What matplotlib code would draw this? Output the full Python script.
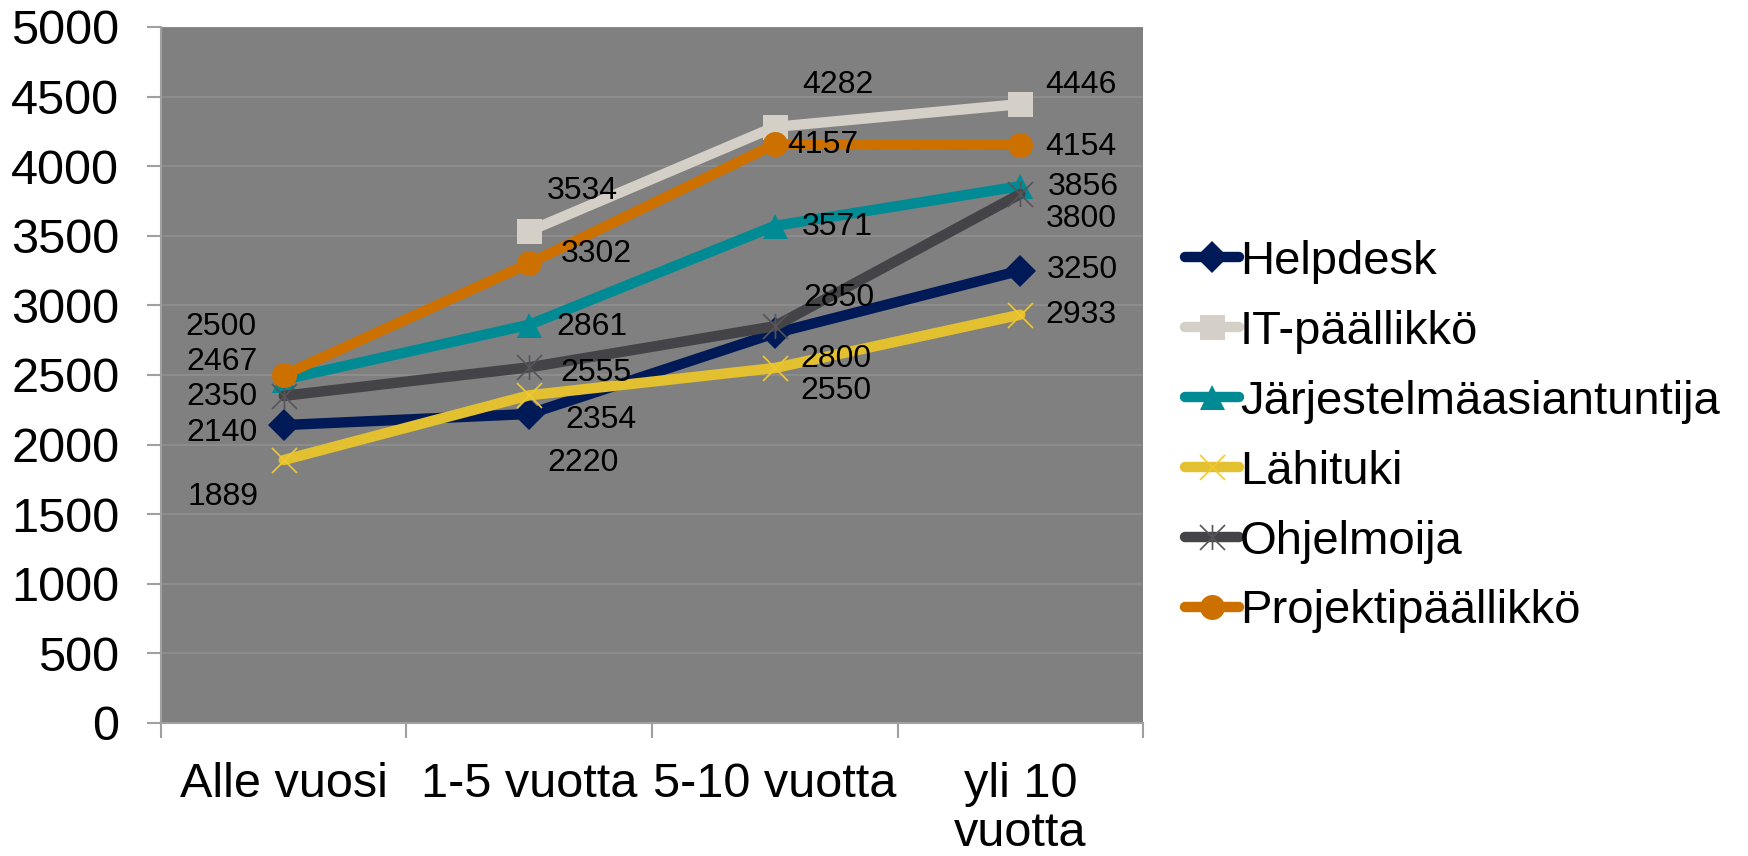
import matplotlib
matplotlib.use("Agg")
from matplotlib import pyplot as plt
from matplotlib.path import Path
import numpy as np

plt.rcParams['font.family'] = ['Liberation Sans', 'DejaVu Sans']

categories = ["Alle vuosi", "1-5 vuotta", "5-10 vuotta", "yli 10\nvuotta"]

helpdesk = [2140, 2220, 2800, 3250]
it_paallikko = [np.nan, 3534, 4282, 4446]
jarjestelma = [2467, 2861, 3571, 3856]
lahituki = [1889, 2354, 2550, 2933]
ohjelmoija = [2350, 2555, 2850, 3800]
projekti = [2500, 3302, 4157, 4154]

series_names = ["Helpdesk", "IT-päällikkö", "Järjestelmäasiantuntija",
                "Lähituki", "Ohjelmoija", "Projektipäällikkö"]
series_values = [helpdesk, it_paallikko, jarjestelma, lahituki, ohjelmoija, projekti]

# asterisk marker like excel's "star": x plus a vertical bar
star = Path([(-0.5, -0.5), (0.5, 0.5), (-0.5, 0.5), (0.5, -0.5), (0, -0.5), (0, 0.5)],
            [Path.MOVETO, Path.LINETO, Path.MOVETO, Path.LINETO, Path.MOVETO, Path.LINETO])

styles = [
    dict(color="#001a57", marker="D", ms=16, mfc="#001a57", mec="#001a57", mew=0),
    dict(color="#d4d0c8", marker="s", ms=18, mfc="#d4d0c8", mec="#d4d0c8", mew=0),
    dict(color="#008b94", marker="^", ms=18, mfc="#008b94", mec="#008b94", mew=0),
    dict(color="#e3c02f", marker="x", ms=18, mfc="none", mec="#f0c830", mew=1.2),
    dict(color="#434348", marker=star, ms=18, mfc="none", mec="#55555a", mew=1.2),
    dict(color="#cc7000", marker="o", ms=18, mfc="#cc7000", mec="#cc7000", mew=0),
]

# label offsets in pixels (dx, dy with dy upward), one row per series
label_offsets = [
    [(-62, -8), (54, -49), (61, -26), (62, 1)],
    [None, (53, 40), (63, 42), (61, 19)],
    [(-62, 18), (63, -2), (63, -1), (63, -1)],
    [(-61, -37), (72, -25), (61, -23), (61, 0)],
    [(-62, -1), (67, -6), (64, 28), (61, -25)],
    [(-63, 48), (67, 9), (48, -1), (61, -2)],
]

fig = plt.figure(figsize=(17.48, 8.56), dpi=100)
ax = fig.add_axes([0.0921, 0.1554, 0.5618, 0.8131])
ax.set_facecolor("#808080")

x = np.arange(len(categories))
for name, values, st, offs in zip(series_names, series_values, styles, label_offsets):
    ax.plot(x, values, label=name, lw=7.5, solid_capstyle="round", solid_joinstyle="round",
            zorder=3, clip_on=False, **st)
    for xi, v, off in zip(x, values, offs):
        if off is None or np.isnan(v):
            continue
        ax.annotate(str(int(v)), (xi, v), xytext=off, textcoords="offset pixels",
                    ha="center", va="center", fontsize=23, color="black", zorder=5)

ax.set_xlim(-0.5, len(categories) - 0.5)
ax.set_ylim(0, 5000)
ax.set_yticks(np.arange(0, 5001, 500))
ax.yaxis.grid(True, color="#8c8c8c", lw=1.5)
ax.set_axisbelow(True)

ax.set_xticks(np.arange(-0.5, len(categories), 1.0))
ax.set_xticklabels([])
ax.set_xticks(x, minor=True)
ax.set_xticklabels(categories, minor=True, fontsize=35, linespacing=1.12)
ax.tick_params(axis="x", which="major", length=11, width=1.5, color="#a0a0a0", direction="out")
ax.tick_params(axis="x", which="minor", length=0, pad=28)
ax.tick_params(axis="y", length=10, width=1.5, color="#a0a0a0", direction="out", pad=20, labelsize=35)

for side in ["top", "right"]:
    ax.spines[side].set_visible(False)
for side in ["left", "bottom"]:
    ax.spines[side].set_color("#a0a0a0")
    ax.spines[side].set_linewidth(1.5)

leg = fig.legend(loc="center left", bbox_to_anchor=(0.667, 0.49), frameon=False,
                 fontsize=34, handlelength=1.15, handletextpad=0.02, labelspacing=0.55,
                 numpoints=1, borderaxespad=0)

fig.savefig("out.png", dpi=100)
plt.close()
